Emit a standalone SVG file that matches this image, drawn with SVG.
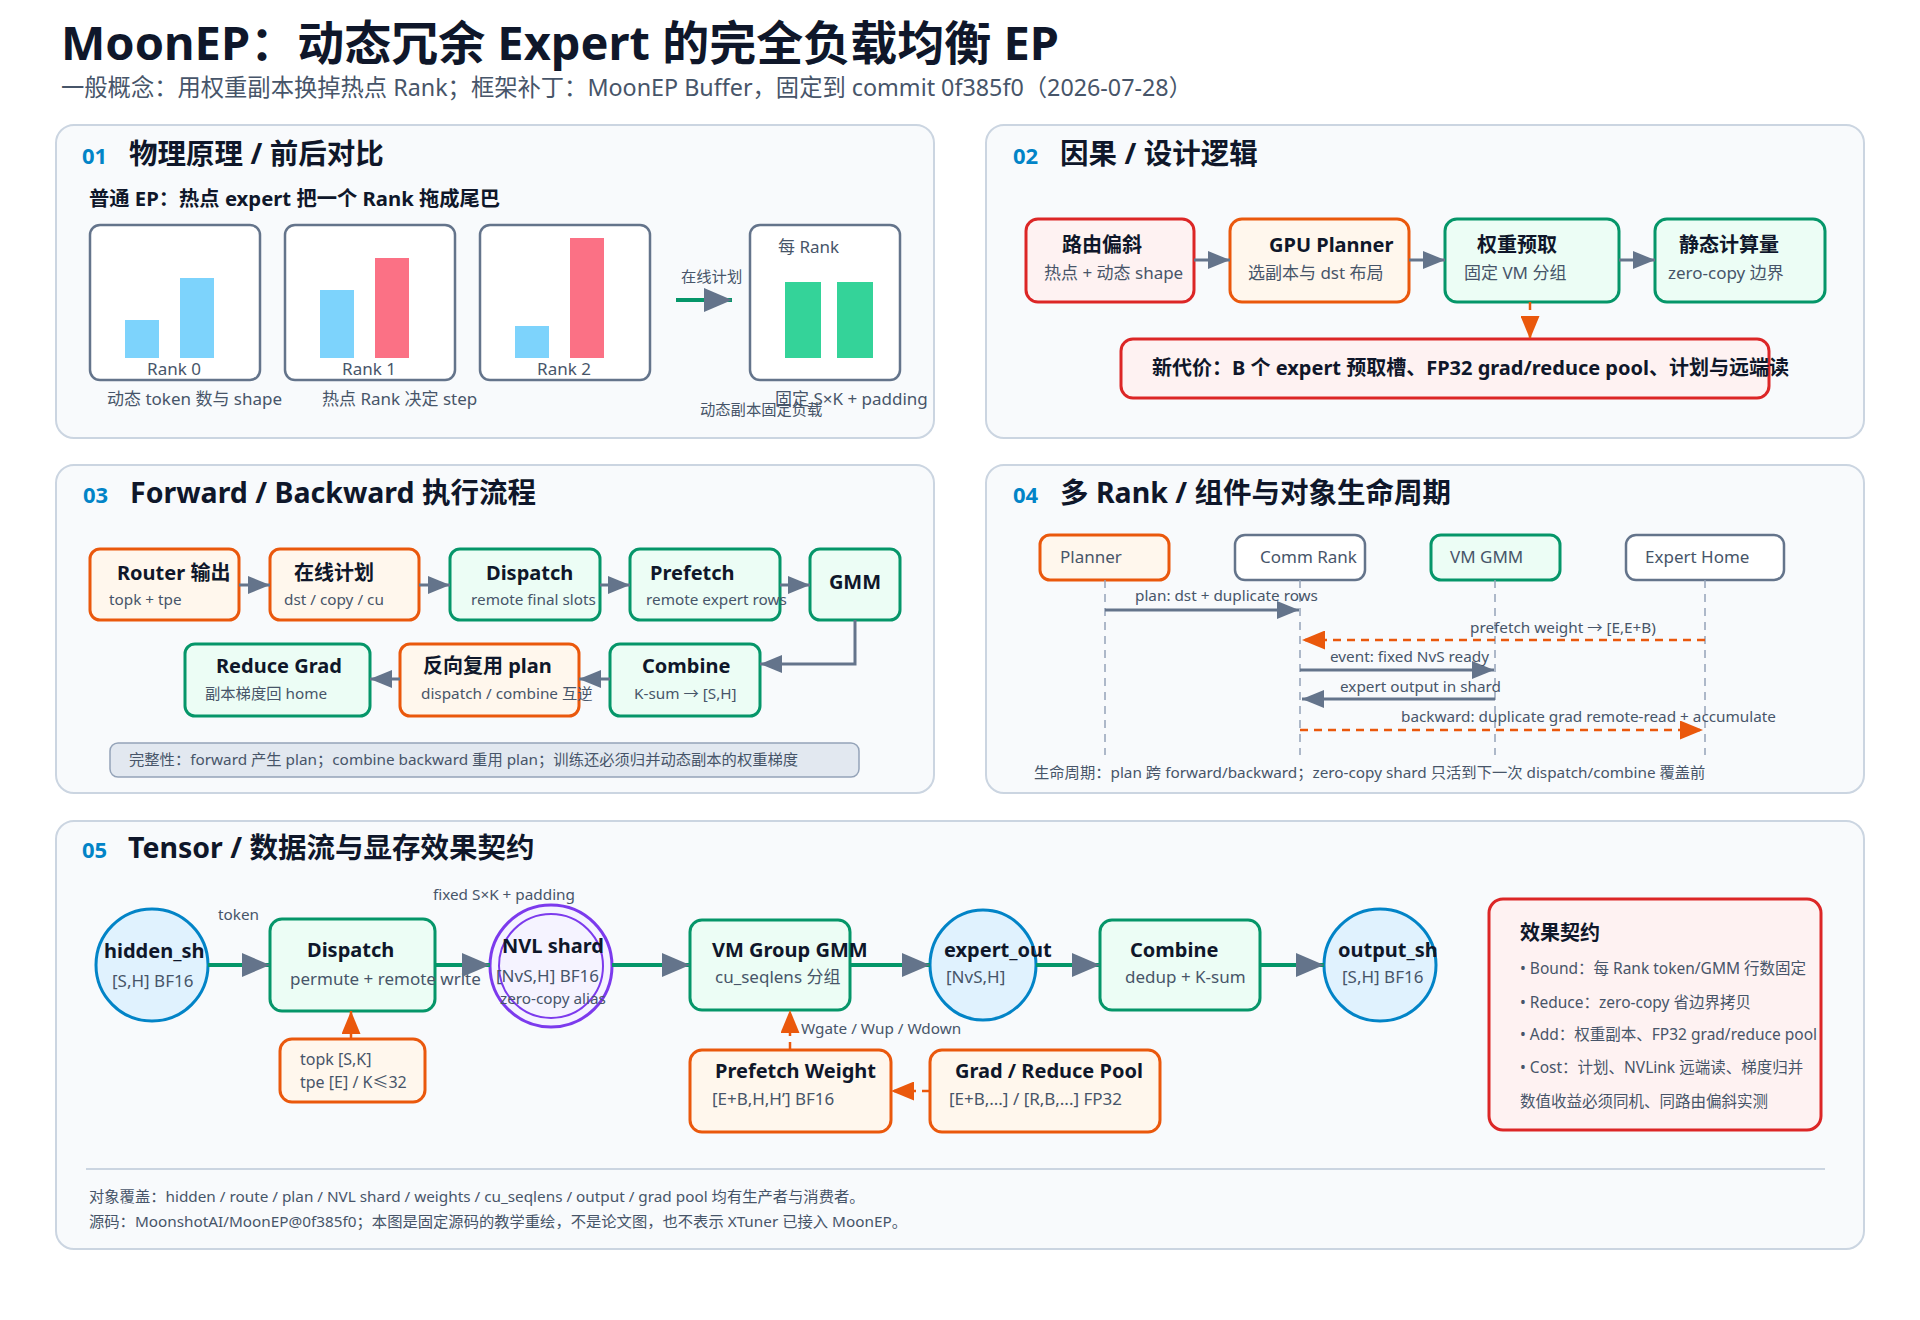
<svg xmlns="http://www.w3.org/2000/svg" width="1920" height="1320" viewBox="0 0 1920 1320">
<defs>
<style>
text { font-family: "Noto Sans", "Noto Sans CJK SC", sans-serif; }
.panel { fill:#f8fafc; stroke:#cbd5e1; stroke-width:2; }
.num { font-size:22px; font-weight:700; fill:#0284c7; }
.h2 { font-size:28.5px; font-weight:700; fill:#0f172a; }
.t { font-weight:700; fill:#0f172a; }
.s { fill:#475569; }
.or { fill:#fff7ed; stroke:#ea580c; stroke-width:3; }
.gr { fill:#ecfdf5; stroke:#059669; stroke-width:3; }
.rd { fill:#fef2f2; stroke:#dc2626; stroke-width:3; }
.bl { fill:#e0f2fe; stroke:#0284c7; stroke-width:3; }
.pu { fill:#f5f3ff; stroke:#7c3aed; stroke-width:3; }
.gy { fill:#ffffff; stroke:#64748b; stroke-width:2.5; }
.ln { stroke:#64748b; stroke-width:3; fill:none; }
.lg { stroke:#059669; stroke-width:4; fill:none; }
.lo { stroke:#ea580c; stroke-width:2.5; stroke-dasharray:8 6; fill:none; }
.los { stroke:#ea580c; stroke-width:2.5; fill:none; }
.life { stroke:#94a3b8; stroke-width:1.5; stroke-dasharray:8 6; fill:none; }
.f15 { font-size:15.3px; }
.f17 { font-size:17px; }
.f20 { font-size:20px; }
</style>
<marker id="ah" markerUnits="userSpaceOnUse" markerWidth="22" markerHeight="18" refX="22" refY="9" orient="auto">
<path d="M0,0 L22,9 L0,18 z" fill="#64748b"/>
</marker>
<marker id="ahL" markerUnits="userSpaceOnUse" markerWidth="28" markerHeight="24" refX="28" refY="12" orient="auto">
<path d="M0,0 L28,12 L0,24 z" fill="#64748b"/>
</marker>
<marker id="ao" markerUnits="userSpaceOnUse" markerWidth="23" markerHeight="19" refX="23" refY="9.5" orient="auto">
<path d="M0,0 L23,9.5 L0,19 z" fill="#ea580c"/>
</marker>
</defs>
<rect width="1920" height="1320" fill="#ffffff"/>

<g id="title">
<text x="61" y="60" font-size="47" font-weight="700" fill="#0f172a">MoonEP：动态冗余 Expert 的完全负载均衡 EP</text>
<text x="61" y="96" font-size="23.3" fill="#475569">一般概念：用权重副本换掉热点 Rank；框架补丁：MoonEP Buffer，固定到 commit 0f385f0（2026-07-28）</text>
</g>

<!-- Panels -->
<g id="panels">
<rect class="panel" x="56" y="125" width="878" height="313" rx="18"/>
<rect class="panel" x="986" y="125" width="878" height="313" rx="18"/>
<rect class="panel" x="56" y="465" width="878" height="328" rx="18"/>
<rect class="panel" x="986" y="465" width="878" height="328" rx="18"/>
<rect class="panel" x="56" y="821" width="1808" height="428" rx="18"/>
</g>

<!-- Panel 01 -->
<g id="p01-head">
<text class="num" x="82" y="164">01</text>
<text class="h2" x="129" y="164">物理原理 / 前后对比</text>
<text class="t" x="89" y="206" font-size="20.3">普通 EP：热点 expert 把一个 Rank 拖成尾巴</text>
</g>
<g id="rank0">
<rect class="gy" x="90" y="225" width="170" height="155" rx="10"/>
<rect x="125" y="320" width="34" height="38" fill="#7dd3fc"/>
<rect x="180" y="278" width="34" height="80" fill="#7dd3fc"/>
<text class="s f17" x="174" y="375" text-anchor="middle">Rank 0</text>
<text class="s f17" x="107" y="405">动态 token 数与 shape</text>
</g>
<g id="rank1">
<rect class="gy" x="285" y="225" width="170" height="155" rx="10"/>
<rect x="320" y="290" width="34" height="68" fill="#7dd3fc"/>
<rect x="375" y="258" width="34" height="100" fill="#fb7185"/>
<text class="s f17" x="369" y="375" text-anchor="middle">Rank 1</text>
<text class="s f17" x="322" y="405">热点 Rank 决定 step</text>
</g>
<g id="rank2">
<rect class="gy" x="480" y="225" width="170" height="155" rx="10"/>
<rect x="515" y="326" width="34" height="32" fill="#7dd3fc"/>
<rect x="570" y="238" width="34" height="120" fill="#fb7185"/>
<text class="s f17" x="564" y="375" text-anchor="middle">Rank 2</text>
</g>
<g id="perrank">
<rect class="gy" x="750" y="225" width="150" height="155" rx="10"/>
<rect x="785" y="282" width="36" height="76" fill="#34d399"/>
<rect x="837" y="282" width="36" height="76" fill="#34d399"/>
<text class="s f17" x="778" y="253">每 Rank</text>
<text class="s f17" x="775" y="405">固定 S×K + padding</text>
<text class="s f15" x="700" y="415">动态副本固定负载</text>
</g>

<!-- Panel 02 -->
<g id="p02-head">
<text class="num" x="1013" y="164">02</text>
<text class="h2" x="1060" y="164">因果 / 设计逻辑</text>
</g>
<g id="skew">
<rect class="rd" x="1026" y="219" width="168" height="83" rx="12"/>
<text class="t f20" x="1062" y="252">路由偏斜</text>
<text class="s f17" x="1044" y="279">热点 + 动态 shape</text>
</g>
<g id="planner">
<rect class="or" x="1230" y="219" width="179" height="83" rx="12"/>
<text class="t f20" x="1269" y="252">GPU Planner</text>
<text class="s f17" x="1248" y="279">选副本与 dst 布局</text>
</g>
<g id="prefetch">
<rect class="gr" x="1445" y="219" width="174" height="83" rx="12"/>
<text class="t f20" x="1477" y="252">权重预取</text>
<text class="s f17" x="1464" y="279">固定 VM 分组</text>
</g>
<g id="static">
<rect class="gr" x="1655" y="219" width="170" height="83" rx="12"/>
<text class="t f20" x="1679" y="252">静态计算量</text>
<text class="s f17" x="1668" y="279">zero-copy 边界</text>
</g>
<g id="cost">
<rect class="rd" x="1121" y="339" width="648" height="59" rx="12"/>
<text class="t f20" x="1152" y="375">新代价：B 个 expert 预取槽、FP32 grad/reduce pool、计划与远端读</text>
</g>

<!-- Panel 03 -->
<g id="p03-head">
<text class="num" x="83" y="503">03</text>
<text class="h2" x="130" y="503">Forward / Backward 执行流程</text>
</g>
<g id="router">
<rect class="or" x="90" y="549" width="149" height="71" rx="10"/>
<text class="t f20" x="117" y="580">Router 输出</text>
<text class="s f15" x="109" y="605">topk + tpe</text>
</g>
<g id="onlineplan">
<rect class="or" x="270" y="549" width="149" height="71" rx="10"/>
<text class="t f20" x="294" y="580">在线计划</text>
<text class="s f15" x="284" y="605">dst / copy / cu</text>
</g>
<g id="dispatch3">
<rect class="gr" x="450" y="549" width="150" height="71" rx="10"/>
<text class="t f20" x="486" y="580">Dispatch</text>
<text class="s f15" x="471" y="605">remote final slots</text>
</g>
<g id="prefetch3">
<rect class="gr" x="630" y="549" width="150" height="71" rx="10"/>
<text class="t f20" x="650" y="580">Prefetch</text>
<text class="s f15" x="646" y="605">remote expert rows</text>
</g>
<g id="gmm3">
<rect class="gr" x="810" y="549" width="90" height="71" rx="10"/>
<text class="t f20" x="855" y="589" text-anchor="middle">GMM</text>
</g>
<g id="reducegrad">
<rect class="gr" x="185" y="644" width="185" height="72" rx="10"/>
<text class="t f20" x="216" y="673">Reduce Grad</text>
<text class="s f15" x="205" y="699">副本梯度回 home</text>
</g>
<g id="reuseplan">
<rect class="or" x="400" y="644" width="179" height="72" rx="10"/>
<text class="t f20" x="423" y="673">反向复用 plan</text>
<text class="s f15" x="421" y="699">dispatch / combine 互逆</text>
</g>
<g id="combine3">
<rect class="gr" x="610" y="644" width="150" height="72" rx="10"/>
<text class="t f20" x="642" y="673">Combine</text>
<text class="s f15" x="634" y="699">K-sum → [S,H]</text>
</g>
<g id="p03-note">
<rect x="110" y="743" width="749" height="34" rx="8" fill="#e2e8f0" stroke="#94a3b8" stroke-width="1.5"/>
<text class="f15" x="129" y="765" fill="#475569">完整性：forward 产生 plan；combine backward 重用 plan；训练还必须归并动态副本的权重梯度</text>
</g>

<!-- Panel 04 -->
<g id="p04-head">
<text class="num" x="1013" y="503">04</text>
<text class="h2" x="1060" y="503">多 Rank / 组件与对象生命周期</text>
</g>
<g id="ll-planner">
<rect class="or" x="1040" y="535" width="129" height="45" rx="10"/>
<text class="s f17" x="1060" y="563">Planner</text>
</g>
<g id="ll-comm">
<rect class="gy" x="1235" y="535" width="130" height="45" rx="10"/>
<text class="s f17" x="1260" y="563">Comm Rank</text>
</g>
<g id="ll-vm">
<rect class="gr" x="1431" y="535" width="129" height="45" rx="10"/>
<text class="s f17" x="1450" y="563">VM GMM</text>
</g>
<g id="ll-home">
<rect class="gy" x="1626" y="535" width="158" height="45" rx="10"/>
<text class="s f17" x="1645" y="563">Expert Home</text>
</g>
<g id="lifelines">
<line class="life" x1="1105" y1="580" x2="1105" y2="755"/>
<line class="life" x1="1300" y1="580" x2="1300" y2="755"/>
<line class="life" x1="1495" y1="580" x2="1495" y2="755"/>
<line class="life" x1="1705" y1="580" x2="1705" y2="755"/>
</g>
<g id="p04-footer">
<text class="f15" x="1034" y="778" fill="#475569">生命周期：plan 跨 forward/backward；zero-copy shard 只活到下一次 dispatch/combine 覆盖前</text>
</g>

<!-- Panel 05 -->
<g id="p05-head">
<text class="num" x="82" y="858">05</text>
<text class="h2" x="128" y="858">Tensor / 数据流与显存效果契约</text>
</g>
<g id="hidden">
<circle class="bl" cx="152" cy="965" r="56"/>
<text class="t f20" x="104" y="958">hidden_sh</text>
<text class="s f17" x="112" y="987">[S,H] BF16</text>
</g>
<g id="dispatch5">
<rect class="gr" x="270" y="919" width="165" height="92" rx="12"/>
<text class="t f20" x="307" y="957">Dispatch</text>
<text class="s f17" x="290" y="985">permute + remote write</text>
</g>
<g id="nvl">
<circle class="pu" cx="551" cy="966" r="61"/>
<circle cx="551" cy="966" r="52" fill="none" stroke="#7c3aed" stroke-width="2"/>
<text class="t f20" x="502" y="953">NVL shard</text>
<text class="s f17" x="496" y="982">[NvS,H] BF16</text>
<text class="s f15" x="500" y="1004">zero-copy alias</text>
</g>
<g id="vmgmm">
<rect class="gr" x="690" y="920" width="160" height="90" rx="12"/>
<text class="t f20" x="712" y="957">VM Group GMM</text>
<text class="s f17" x="715" y="983">cu_seqlens 分组</text>
</g>
<g id="expertout">
<ellipse class="bl" cx="983" cy="965" rx="53" ry="55"/>
<text class="t f20" x="944" y="957">expert_out</text>
<text class="s f17" x="946" y="983">[NvS,H]</text>
</g>
<g id="combine5">
<rect class="gr" x="1100" y="920" width="160" height="90" rx="12"/>
<text class="t f20" x="1130" y="957">Combine</text>
<text class="s f17" x="1125" y="983">dedup + K-sum</text>
</g>
<g id="outputsh">
<circle class="bl" cx="1380" cy="965" r="56"/>
<text class="t f20" x="1338" y="957">output_sh</text>
<text class="s f17" x="1342" y="983">[S,H] BF16</text>
</g>
<g id="topk">
<rect class="or" x="280" y="1039" width="145" height="63" rx="12"/>
<text class="s" font-size="16" x="300" y="1065">topk [S,K]</text>
<text class="s" font-size="16" x="300" y="1088">tpe [E] / K≤32</text>
</g>
<g id="prefetchw">
<rect class="or" x="690" y="1050" width="201" height="82" rx="12"/>
<text class="t f20" x="715" y="1078">Prefetch Weight</text>
<text class="s f17" x="712" y="1105">[E+B,H,H’] BF16</text>
</g>
<g id="gradpool">
<rect class="or" x="930" y="1050" width="230" height="82" rx="12"/>
<text class="t f20" x="955" y="1078">Grad / Reduce Pool</text>
<text class="s f17" x="949" y="1105">[E+B,...] / [R,B,...] FP32</text>
</g>
<g id="contract">
<rect class="rd" x="1489" y="899" width="332" height="231" rx="14"/>
<text class="t f20" x="1520" y="940">效果契约</text>
<text class="s" font-size="15.5" x="1520" y="974">• Bound：每 Rank token/GMM 行数固定</text>
<text class="s" font-size="15.5" x="1520" y="1008">• Reduce：zero-copy 省边界拷贝</text>
<text class="s" font-size="15.5" x="1520" y="1040">• Add：权重副本、FP32 grad/reduce pool</text>
<text class="s" font-size="15.5" x="1520" y="1073">• Cost：计划、NVLink 远端读、梯度归并</text>
<text class="s" font-size="15.5" x="1520" y="1107">数值收益必须同机、同路由偏斜实测</text>
</g>
<g id="footer">
<line x1="86" y1="1169" x2="1825" y2="1169" stroke="#cbd5e1" stroke-width="2"/>
<text x="89" y="1202" font-size="15.3" fill="#475569">对象覆盖：hidden / route / plan / NVL shard / weights / cu_seqlens / output / grad pool 均有生产者与消费者。</text>
<text x="89" y="1227" font-size="15.3" fill="#475569">源码：MoonshotAI/MoonEP@0f385f0；本图是固定源码的教学重绘，不是论文图，也不表示 XTuner 已接入 MoonEP。</text>
</g>

<!-- Connectors -->
<g id="connectors">
<!-- panel 01 -->
<line class="lg" x1="676" y1="300" x2="732" y2="300" marker-end="url(#ahL)"/>
<text class="s f15" x="681" y="282">在线计划</text>
<!-- panel 02 -->
<line class="ln" x1="1194" y1="260" x2="1230" y2="260" marker-end="url(#ah)"/>
<line class="ln" x1="1409" y1="260" x2="1445" y2="260" marker-end="url(#ah)"/>
<line class="ln" x1="1619" y1="260" x2="1655" y2="260" marker-end="url(#ah)"/>
<line class="lo" x1="1530" y1="302" x2="1530" y2="339" marker-end="url(#ao)"/>
<!-- panel 03 -->
<line class="ln" x1="239" y1="585" x2="270" y2="585" marker-end="url(#ah)"/>
<line class="ln" x1="419" y1="585" x2="450" y2="585" marker-end="url(#ah)"/>
<line class="ln" x1="600" y1="585" x2="630" y2="585" marker-end="url(#ah)"/>
<line class="ln" x1="780" y1="585" x2="810" y2="585" marker-end="url(#ah)"/>
<polyline class="ln" points="855,620 855,664 760,664" marker-end="url(#ah)"/>
<line class="ln" x1="610" y1="679" x2="579" y2="679" marker-end="url(#ah)"/>
<line class="ln" x1="400" y1="679" x2="370" y2="679" marker-end="url(#ah)"/>
<!-- panel 04 -->
<line class="ln" x1="1105" y1="610" x2="1299" y2="610" marker-end="url(#ah)"/>
<text class="s f15" x="1135" y="601">plan: dst + duplicate rows</text>
<line class="lo" x1="1705" y1="640" x2="1302" y2="640" marker-end="url(#ao)"/>
<text class="s f15" x="1470" y="633">prefetch weight → [E,E+B)</text>
<line class="ln" x1="1300" y1="670" x2="1494" y2="670" marker-end="url(#ah)"/>
<text class="s f15" x="1330" y="662">event: fixed NvS ready</text>
<line class="ln" x1="1495" y1="699" x2="1302" y2="699" marker-end="url(#ah)"/>
<text class="s f15" x="1340" y="692">expert output in shard</text>
<line class="lo" x1="1300" y1="730" x2="1703" y2="730" marker-end="url(#ao)"/>
<text class="s f15" x="1401" y="722">backward: duplicate grad remote-read + accumulate</text>
<!-- panel 05 -->
<line class="lg" x1="208" y1="965" x2="270" y2="965" marker-end="url(#ahL)"/>
<text class="s f15" x="218" y="920">token</text>
<line class="lg" x1="435" y1="965" x2="490" y2="965" marker-end="url(#ahL)"/>
<text class="s f15" x="433" y="900">fixed S×K + padding</text>
<line class="lg" x1="612" y1="965" x2="690" y2="965" marker-end="url(#ahL)"/>
<line class="lg" x1="850" y1="965" x2="930" y2="965" marker-end="url(#ahL)"/>
<line class="lg" x1="1036" y1="965" x2="1100" y2="965" marker-end="url(#ahL)"/>
<line class="lg" x1="1260" y1="965" x2="1324" y2="965" marker-end="url(#ahL)"/>
<line class="los" x1="351" y1="1039" x2="351" y2="1011" marker-end="url(#ao)"/>
<line class="lo" x1="790" y1="1050" x2="790" y2="1010" marker-end="url(#ao)"/>
<text class="s f15" x="801" y="1034">Wgate / Wup / Wdown</text>
<line class="lo" x1="930" y1="1091" x2="891" y2="1091" marker-end="url(#ao)"/>
</g>
</svg>
